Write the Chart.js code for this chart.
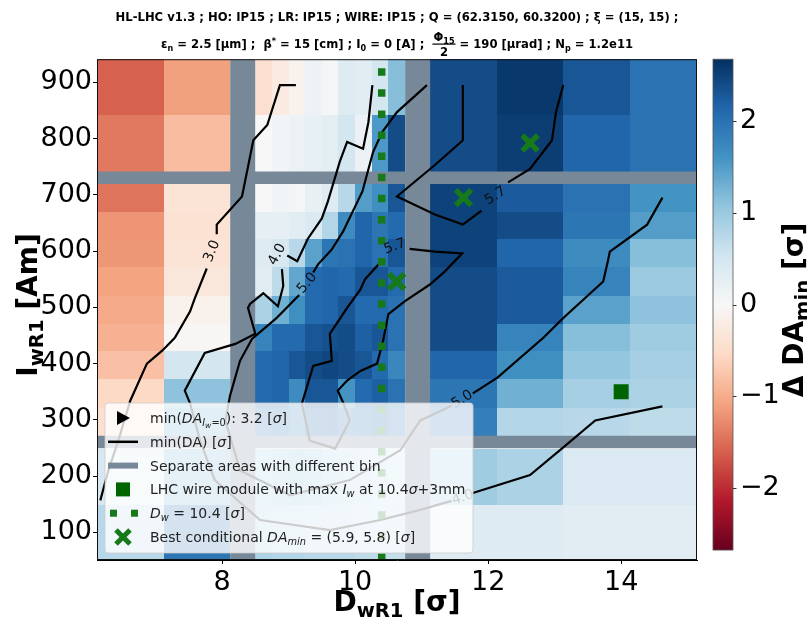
<!DOCTYPE html>
<html>
<head>
<meta charset="utf-8">
<script src="https://cdn.jsdelivr.net/npm/chart.js@4.4.1/dist/chart.umd.min.js"></script>
<style>
  html, body { margin: 0; padding: 0; background: #fff; }
</style>
</head>
<body>
<canvas id="daChart" width="807" height="623"></canvas>
<script>
// bin edges: D_wR1 in sigma, I_wR1 in Am
const dEdgesLeft = [6.12, 7.12, 8.12];
const dEdgesMid = [8.5, 8.75, 9.0, 9.25, 9.5, 9.75, 10.0, 10.25, 10.5, 10.75];
const dEdgesRight = [11.13, 12.13, 13.13, 14.13, 15.14];
const iEdgesLow = [51, 149, 249];
const iEdgesMid = [272, 322, 372, 422, 471, 521, 571, 621, 670, 720];
const iEdgesHigh = [741, 842, 941];

// delta DA_min per bin, rows listed from top to bottom
const dDaHighLeft = [[-1.6, -1.1], [-1.42, -0.83]];
const dDaHighMid = [
  [-0.45, -0.25, -0.1, 0.15, 0.05, 0.35, 0.3, 0.5, 1.15],
  [0.0, 0.08, 0.17, 0.22, 0.28, 0.5, 0.17, 1.55, 2.4],
];
const dDaHighRight = [[2.4, 2.6, 2.3, 2.0], [2.4, 2.55, 2.15, 2.0]];

const dDaMidLeft = [
  [-1.45, -0.38], [-1.2, -0.4], [-1.18, -0.38], [-1.08, -0.3], [-1.02, -0.12],
  [-0.95, -0.02], [-0.8, 0.5], [-0.55, 1.1], [-0.45, 1.3],
];
const dDaMidMid = [
  [0.0, 0.1, 0.05, 0.2, 0.35, 0.75, 1.5, 1.65, 2.3],
  [0.25, 0.25, 0.3, 0.4, 0.8, 1.7, 2.15, 1.95, 2.1],
  [0.35, 0.45, 0.75, 1.45, 1.95, 2.0, 2.15, 2.0, 2.3],
  [0.3, 0.7, 1.4, 2.1, 2.15, 2.1, 2.3, 2.3, 2.1],
  [0.85, 1.3, 1.65, 2.1, 2.15, 2.3, 2.1, 2.1, 2.0],
  [1.8, 2.1, 2.1, 2.3, 2.35, 2.4, 2.2, 2.3, 2.0],
  [2.1, 2.15, 2.3, 2.4, 2.45, 2.4, 2.3, 2.1, 1.75],
  [2.1, 2.15, 1.7, 2.3, 2.3, 1.6, 2.1, 2.2, 2.0],
  [1.9, 2.0, 1.8, 2.1, 2.2, 1.9, 2.0, 2.1, 1.9],
];
const dDaMidRight = [
  [2.5, 2.25, 2.0, 1.6], [2.5, 2.4, 1.95, 1.5], [2.5, 2.15, 1.7, 1.15],
  [2.4, 2.25, 1.8, 1.0], [2.4, 2.25, 1.45, 1.1], [2.4, 1.8, 1.15, 0.95],
  [2.15, 1.65, 1.05, 0.9], [1.95, 1.3, 0.9, 0.85], [1.85, 0.8, 0.75, 0.7],
];

const dDaLowLeft = [[0.45, 1.2], [0.75, 1.95]];
const dDaLowMid = [
  [0.9, 1.0, 1.1, 1.0, 0.9, 0.8, 0.75, 0.7, 0.6],
  [0.85, 0.8, 0.8, 0.75, 0.75, 0.75, 0.7, 0.7, 0.65],
];
const dDaLowRight = [[0.95, 0.85, 0.4, 0.4], [0.35, 0.35, 0.3, 0.3]];

// min(DA) contour lines, points are [D, I]
const contour30 = [
  [[9.11, 895], [8.87, 895], [8.68, 824], [8.47, 797], [8.30, 697], [7.92, 647], [7.92, 630]],
  [[7.77, 569], [7.59, 516], [7.52, 493], [7.29, 446], [7.10, 423], [6.87, 400], [6.62, 334], [6.44, 263], [6.29, 210], [6.17, 157]],
];
const contour40 = [
  [[10.26, 895], [10.20, 829], [10.12, 782], [9.88, 794], [9.77, 759], [9.59, 688], [9.50, 658], [9.29, 622], [9.13, 582], [8.98, 592]],
  [[8.90, 568], [8.92, 538], [8.84, 502], [8.62, 525], [8.42, 506], [8.39, 499], [8.50, 453], [8.20, 435], [7.74, 419], [7.44, 352], [7.52, 329], [7.67, 263], [7.89, 193], [8.57, 122], [9.62, 104], [10.38, 122], [10.98, 140], [11.45, 156]],
  [[11.77, 170], [12.63, 202], [13.13, 251], [13.61, 299], [14.62, 324]],
];
const contour50 = [
  [[11.08, 895], [10.63, 847], [10.41, 812], [10.27, 776], [10.11, 706], [9.82, 635], [9.65, 603], [9.44, 576], [9.37, 562]],
  [[9.16, 522], [8.92, 493], [8.80, 479], [8.45, 444], [8.27, 405], [8.12, 343], [8.05, 299], [8.27, 210], [9.02, 166], [9.92, 193], [10.68, 246], [10.98, 299], [11.45, 325]],
  [[11.77, 347], [12.14, 375], [12.83, 446], [13.13, 481], [13.73, 546], [13.80, 582], [13.83, 599], [14.39, 647], [14.62, 695]],
];
const contour57 = [
  [[11.62, 895], [11.62, 797], [11.20, 753], [10.63, 697], [11.20, 665], [11.62, 647], [11.90, 672]],
  [[12.30, 722], [12.63, 746], [12.96, 797], [13.02, 847], [13.13, 895]],
  [[10.42, 585], [10.15, 550], [10.08, 532], [9.88, 499], [9.62, 453], [9.65, 405], [9.37, 396], [9.20, 329], [9.32, 263], [9.70, 249], [9.92, 299], [9.82, 331], [9.74, 352], [9.88, 370], [10.08, 387], [10.33, 400], [10.42, 440], [10.50, 488], [10.75, 511], [11.13, 541], [11.35, 564], [11.61, 596], [11.20, 599], [10.82, 604]],
];
const contourLabels = [
  { d: 7.85, i: 600, t: '3.0', a: -68 },
  { d: 8.83, i: 594, t: '4.0', a: -62 },
  { d: 9.28, i: 543, t: '5.0', a: -50 },
  { d: 10.60, i: 608, t: '5.7', a: -20 },
  { d: 12.11, i: 698, t: '5.7', a: -32 },
  { d: 11.61, i: 336, t: '5.0', a: -32 },
  { d: 11.62, i: 162, t: '4.0', a: -18 },
];

const wireModule = [[14.0, 350]];
const bestDA = [[11.63, 695], [12.63, 792], [10.625, 546]];
const dWire = 10.4;
const sepD = [8.31, 10.94];
const sepI = [730.5, 260.5];

const xTicks = [8, 10, 12, 14];
const yTicks = [100, 200, 300, 400, 500, 600, 700, 800, 900];
const cbTicks = [-2, -1, 0, 1, 2];
const V_MIN = -2.68, V_MAX = 2.68;

const FONT = "'DejaVu Sans'";
const SEP_COLOR = '#778899';
const GREEN = '#16791a';
const RDBU = [[103,0,31],[178,24,43],[214,96,77],[244,165,130],[253,219,199],[247,247,247],
  [209,229,240],[146,197,222],[67,147,195],[33,102,172],[5,48,97]];

function rdbu(v) {
  let t = (v - V_MIN) / (V_MAX - V_MIN);
  t = Math.max(0, Math.min(1, t));
  const p = t * 10, k = Math.min(9, Math.floor(p)), f = p - k;
  const a = RDBU[k], b = RDBU[k + 1];
  return 'rgb(' + a.map((c, j) => Math.round(c + (b[j] - c) * f)).join(',') + ')';
}

const heatBlocks = [
  [dEdgesLeft, iEdgesHigh, dDaHighLeft], [dEdgesMid, iEdgesHigh, dDaHighMid], [dEdgesRight, iEdgesHigh, dDaHighRight],
  [dEdgesLeft, iEdgesMid, dDaMidLeft], [dEdgesMid, iEdgesMid, dDaMidMid], [dEdgesRight, iEdgesMid, dDaMidRight],
  [dEdgesLeft, iEdgesLow, dDaLowLeft], [dEdgesMid, iEdgesLow, dDaLowMid], [dEdgesRight, iEdgesLow, dDaLowRight],
];

// rich text: flags i = italic, b = bold, _ = sub, __ = subsub, ^ = sup
const P = (t, f = '') => ({
  t, it: f.includes('i'), b: f.includes('b'),
  lvl: f.includes('__') ? 2 : f.includes('_') ? 1 : f.includes('^') ? -1 : 0,
});
function fontFor(ctx, p, size) {
  const sc = p.lvl === 0 ? 1 : p.lvl === 2 ? 0.55 : 0.7;
  ctx.font = (p.it ? 'italic ' : '') + (p.b ? 'bold ' : '') + (size * sc).toFixed(1) + 'px ' + FONT;
}
function richWidth(ctx, parts, size) {
  return parts.reduce((w, p) => { fontFor(ctx, p, size); return w + ctx.measureText(p.t).width; }, 0);
}
function drawRich(ctx, parts, x, y, size, align) {
  const w = richWidth(ctx, parts, size);
  let cx = align === 'center' ? x - w / 2 : x;
  ctx.textAlign = 'left';
  ctx.textBaseline = 'alphabetic';
  parts.forEach(p => {
    fontFor(ctx, p, size);
    const dy = p.lvl === 1 ? 0.22 * size : p.lvl === 2 ? 0.38 * size : p.lvl === -1 ? -0.38 * size : 0;
    ctx.fillText(p.t, cx, y + dy);
    cx += ctx.measureText(p.t).width;
  });
  return w;
}

const heatmapPlugin = {
  id: 'heatmap',
  beforeDatasetsDraw(chart) {
    const { ctx, scales: { x, y } } = chart;
    ctx.save();
    heatBlocks.forEach(([de, ie, vals]) => {
      const n = ie.length - 1;
      vals.forEach((row, r) => {
        const y0 = Math.round(y.getPixelForValue(ie[n - r]));
        const y1 = Math.round(y.getPixelForValue(ie[n - r - 1]));
        row.forEach((v, c) => {
          const x0 = Math.round(x.getPixelForValue(de[c]));
          const x1 = Math.round(x.getPixelForValue(de[c + 1]));
          ctx.fillStyle = rdbu(v);
          ctx.fillRect(x0, y0, x1 - x0, y1 - y0);
        });
      });
    });
    ctx.restore();
  },
};

const overlayPlugin = {
  id: 'overlay',
  afterDatasetsDraw(chart) {
    const { ctx, chartArea: a, scales: { x, y } } = chart;
    ctx.save();
    // contour labels
    ctx.fillStyle = '#111';
    ctx.font = '14px ' + FONT;
    ctx.textAlign = 'center';
    ctx.textBaseline = 'middle';
    contourLabels.forEach(l => {
      ctx.save();
      ctx.translate(x.getPixelForValue(l.d), y.getPixelForValue(l.i));
      ctx.rotate(l.a * Math.PI / 180);
      ctx.fillText(l.t, 0, 0);
      ctx.restore();
    });
    // axes frame
    ctx.strokeStyle = '#111';
    ctx.lineWidth = 1;
    ctx.strokeRect(a.left + 0.5, a.top + 0.5, a.right - a.left - 1, a.bottom - a.top - 1);

    // legend
    const bx = a.left + 8, bw = 368, bh = 150, by = a.bottom - 7 - bh;
    ctx.globalAlpha = 0.8;
    ctx.beginPath();
    ctx.roundRect(bx, by, bw, bh, 3);
    ctx.fillStyle = '#fff';
    ctx.fill();
    ctx.strokeStyle = '#ccc';
    ctx.lineWidth = 1;
    ctx.stroke();
    ctx.globalAlpha = 1;
    const mx = bx + 18, tx = bx + 45;
    const rowY = k => by + 15 + k * 23.8;
    // row 0: triangle marker
    ctx.fillStyle = '#000';
    ctx.beginPath();
    ctx.moveTo(mx - 6, rowY(0) - 7);
    ctx.lineTo(mx - 6, rowY(0) + 7);
    ctx.lineTo(mx + 7, rowY(0));
    ctx.closePath();
    ctx.fill();
    // row 1: contour line
    ctx.strokeStyle = '#000';
    ctx.lineWidth = 2.5;
    ctx.beginPath(); ctx.moveTo(mx - 15, rowY(1)); ctx.lineTo(mx + 15, rowY(1)); ctx.stroke();
    // row 2: separator
    ctx.strokeStyle = SEP_COLOR;
    ctx.lineWidth = 6;
    ctx.beginPath(); ctx.moveTo(mx - 15, rowY(2)); ctx.lineTo(mx + 15, rowY(2)); ctx.stroke();
    // row 3: square
    ctx.fillStyle = 'darkgreen';
    ctx.fillRect(mx - 7, rowY(3) - 7, 14, 14);
    // row 4: dotted
    ctx.fillStyle = GREEN;
    ctx.fillRect(mx - 13, rowY(4) - 3.5, 7, 7);
    ctx.fillRect(mx + 8, rowY(4) - 3.5, 7, 7);
    // row 5: X marker
    ctx.strokeStyle = GREEN;
    ctx.lineWidth = 5;
    ctx.beginPath();
    ctx.moveTo(mx - 7, rowY(5) - 7); ctx.lineTo(mx + 7, rowY(5) + 7);
    ctx.moveTo(mx - 7, rowY(5) + 7); ctx.lineTo(mx + 7, rowY(5) - 7);
    ctx.stroke();

    ctx.fillStyle = '#222';
    const rows = [
      [P('min('), P('DA', 'i'), P('I', 'i_'), P('w', 'i__'), P('=0', '_'), P('): 3.2 ['), P('σ', 'i'), P(']')],
      [P('min(DA) ['), P('σ', 'i'), P(']')],
      [P('Separate areas with different bin')],
      [P('LHC wire module with max '), P('I', 'i'), P('w', 'i_'), P(' at 10.4'), P('σ', 'i'), P('+3mm')],
      [P('D', 'i'), P('w', 'i_'), P(' = 10.4 ['), P('σ', 'i'), P(']')],
      [P('Best conditional '), P('DA', 'i'), P('min', 'i_'), P(' = (5.9, 5.8) ['), P('σ', 'i'), P(']')],
    ];
    rows.forEach((r, k) => drawRich(ctx, r, tx, rowY(k) + 5, 14, 'left'));
    ctx.restore();
  },
  afterDraw(chart) {
    const { ctx, chartArea: a } = chart;
    const cb = chart.scales.cb;
    ctx.save();
    // colorbar
    const xL = a.right + 16, w = 20;
    const yTop = cb.getPixelForValue(V_MAX), yBot = cb.getPixelForValue(V_MIN);
    const g = ctx.createLinearGradient(0, yBot, 0, yTop);
    RDBU.forEach((c, k) => g.addColorStop(k / 10, 'rgb(' + c.join(',') + ')'));
    ctx.fillStyle = g;
    ctx.fillRect(xL, yTop, w, yBot - yTop);
    ctx.strokeStyle = '#555';
    ctx.lineWidth = 0.8;
    ctx.strokeRect(xL, yTop, w, yBot - yTop);
    ctx.strokeStyle = '#000';
    cbTicks.forEach(v => {
      const py = Math.round(cb.getPixelForValue(v)) + 0.5;
      ctx.beginPath(); ctx.moveTo(xL + w, py); ctx.lineTo(xL + w + 3.5, py); ctx.stroke();
    });

    // titles
    ctx.fillStyle = '#000';
    const cx = (a.left + a.right) / 2;
    const fs = 11.6;
    drawRich(ctx, [P('HL-LHC v1.3 ; HO: IP15 ; LR: IP15 ; WIRE: IP15 ; Q = (62.3150, 60.3200) ; ξ = (15, 15) ;', 'b')], cx, 21, fs, 'center');
    const before = [P('ε', 'b'), P('n', 'b_'), P(' = 2.5 [μm] ;  β', 'b'), P('*', 'b^'), P(' = 15 [cm] ; I', 'b'), P('0', 'b_'), P(' = 0 [A] ;  ', 'b')];
    const num = [P('Φ', 'b'), P('15', 'b_')];
    const den = [P('2', 'b')];
    const after = [P(' = 190 [μrad] ; N', 'b'), P('p', 'b_'), P(' = 1.2e11', 'b')];
    const bw = richWidth(ctx, before, fs), nw = richWidth(ctx, num, fs), dw = richWidth(ctx, den, fs);
    const fw = Math.max(nw, dw) + 2, aw = richWidth(ctx, after, fs);
    const sx = cx - (bw + fw + aw) / 2;
    const by = 48;
    drawRich(ctx, before, sx, by, fs, 'left');
    drawRich(ctx, num, sx + bw + fw / 2, by - 7, fs, 'center');
    drawRich(ctx, den, sx + bw + fw / 2, by + 8, fs, 'center');
    ctx.fillRect(sx + bw, by - 4.5, fw, 1.2);
    drawRich(ctx, after, sx + bw + fw, by, fs, 'left');

    // axis titles
    drawRich(ctx, [P('D', 'b'), P('wR1', 'b_'), P(' [σ]', 'b')], cx, 611, 28, 'center');
    ctx.save();
    ctx.translate(37, 305);
    ctx.rotate(-Math.PI / 2);
    drawRich(ctx, [P('I', 'b'), P('wR1', 'b_'), P(' [Am]', 'b')], 0, 0, 28, 'center');
    ctx.restore();
    ctx.save();
    ctx.translate(803, 310);
    ctx.rotate(-Math.PI / 2);
    drawRich(ctx, [P('Δ DA', 'b'), P('min', 'b_'), P(' [σ]', 'b')], 0, 0, 28, 'center');
    ctx.restore();
    ctx.restore();
  },
};

// datasets
const datasets = [];
const toXY = pts => pts.map(([d, i]) => ({ x: d, y: i }));
sepD.forEach(d => datasets.push({
  data: [{ x: d, y: iEdgesLow[0] }, { x: d, y: iEdgesHigh[2] }],
  showLine: true, borderColor: SEP_COLOR, borderWidth: 25, pointRadius: 0, clip: 0, order: 6,
}));
sepI.forEach(i => datasets.push({
  data: [{ x: dEdgesLeft[0], y: i }, { x: dEdgesRight[4], y: i }],
  showLine: true, borderColor: SEP_COLOR, borderWidth: 12.5, pointRadius: 0, clip: 0, order: 5,
}));
[contour30, contour40, contour50, contour57].forEach(level => level.forEach(seg => datasets.push({
  data: toXY(seg), showLine: true, borderColor: '#000', borderWidth: 2.2,
  pointRadius: 0, tension: 0, order: 4,
})));
datasets.push({
  data: [{ x: dWire, y: iEdgesHigh[2] }, { x: dWire, y: iEdgesLow[0] }],
  showLine: true, borderColor: GREEN, borderWidth: 7.5, borderDash: [7.5, 13.6],
  borderDashOffset: 12.1, borderCapStyle: 'butt', pointRadius: 0, clip: 0, order: 3,
});
datasets.push({
  data: toXY(wireModule), pointStyle: 'rect', pointRadius: 10.6,
  backgroundColor: 'darkgreen', borderColor: 'darkgreen', borderWidth: 0, order: 2,
});
datasets.push({
  data: toXY(bestDA), pointStyle: 'crossRot', pointRadius: 11,
  borderColor: GREEN, borderWidth: 5.5, order: 1,
});

const tickFont = { family: FONT, size: 27 };
new Chart(document.getElementById('daChart').getContext('2d'), {
  type: 'scatter',
  data: { datasets },
  options: {
    responsive: false,
    animation: false,
    events: [],
    layout: { padding: { top: 57, left: 0, right: 0, bottom: 0 } },
    plugins: { legend: { display: false }, title: { display: false }, tooltip: { enabled: false } },
    scales: {
      x: {
        type: 'linear', position: 'bottom', min: dEdgesLeft[0], max: dEdgesRight[4],
        afterBuildTicks: s => { s.ticks = xTicks.map(v => ({ value: v })); },
        afterFit: s => { s.height = 63; },
        ticks: { font: tickFont, color: '#000', padding: 3, maxRotation: 0 },
        grid: { drawOnChartArea: false, tickLength: 4, color: '#000' },
        border: { color: '#000' },
      },
      y: {
        type: 'linear', position: 'left', min: iEdgesLow[0], max: iEdgesHigh[2],
        afterBuildTicks: s => { s.ticks = yTicks.map(v => ({ value: v })); },
        afterFit: s => { s.width = 97; },
        ticks: { font: tickFont, color: '#000', padding: 1 },
        grid: { drawOnChartArea: false, tickLength: 4, color: '#000' },
        border: { color: '#000' },
      },
      cb: {
        type: 'linear', position: 'right',
        min: V_MAX - (V_MAX - V_MIN) * 503 / 493, max: V_MAX,
        afterBuildTicks: s => { s.ticks = cbTicks.map(v => ({ value: v })); },
        afterFit: s => { s.width = 110; },
        ticks: { font: tickFont, color: '#000', padding: 43, callback: v => (v < 0 ? '\u2212' + Math.abs(v) : String(v)) },
        grid: { display: false, drawTicks: false },
        border: { display: false },
      },
    },
  },
  plugins: [heatmapPlugin, overlayPlugin],
});
</script>
</body>
</html>
